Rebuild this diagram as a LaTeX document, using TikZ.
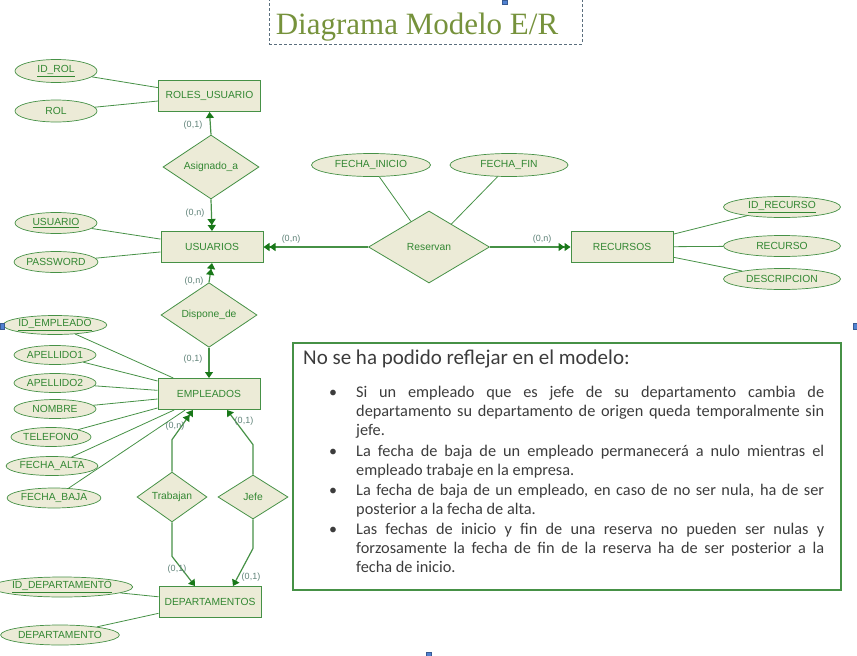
\documentclass[tikz,border=0pt]{standalone}
\usepackage{fontspec}
\setmainfont{Liberation Sans}
\newfontfamily\titlefont{Liberation Serif}
\newfontfamily\notefont{Carlito}
\usetikzlibrary{shapes.geometric,arrows.meta}
\definecolor{erline}{RGB}{70,145,70}
\definecolor{erarrow}{RGB}{25,120,25}
\definecolor{erfill}{RGB}{236,235,215}
\definecolor{ertext}{RGB}{50,135,50}
\definecolor{cardc}{RGB}{95,130,120}
\definecolor{titlegreen}{RGB}{118,146,60}
\definecolor{titlebord}{RGB}{90,110,125}
\definecolor{notegray}{RGB}{60,60,60}
\definecolor{handleblue}{RGB}{80,130,210}
\tikzset{
  erfont/.style={font=\fontsize{10.3}{12}\selectfont, text=ertext},
  entity/.style={draw=erline, fill=erfill, line width=1pt, minimum width=102pt, minimum height=31pt, inner sep=0pt, erfont},
  attr/.style={ellipse, draw=erline, fill=erfill, line width=0.7pt, minimum width=82pt, minimum height=21pt, inner sep=0pt, erfont},
  wideattr/.style={attr, minimum width=117pt},
  rel/.style={diamond, draw=erline, fill=erfill, line width=0.8pt, inner sep=0pt, erfont},
  attrline/.style={draw=erline, line width=0.8pt},
  relline/.style={draw=erline, line width=1.2pt},
  single/.style={relline, -{Triangle[length=6pt,width=8pt,fill=erarrow,color=erarrow]}},
  double/.style={relline, -{Triangle[length=6pt,width=8pt,fill=erarrow,color=erarrow]Triangle[length=6pt,width=8pt,fill=erarrow,color=erarrow]}},
  card/.style={font=\fontsize{9}{10}\selectfont, text=cardc, inner sep=0pt},
  itemtext/.style={anchor=base west, text width=468pt, align=justify, inner sep=0pt, font=\notefont\fontsize{16.3}{19}\selectfont, text=notegray},
  bul/.style={anchor=base, inner sep=0pt, font=\notefont\fontsize{16}{19}\selectfont, text=notegray},
  handle/.style={fill=handleblue, draw=handleblue!70!black, line width=0.3pt}
}
\begin{document}
\begin{tikzpicture}[x=1pt,y=-1pt]
\useasboundingbox (0,0) rectangle (857,656);
% title
\node[draw=titlebord, densely dashed, line width=0.9pt, minimum width=313pt, minimum height=50pt, inner sep=0pt] (titlebox) at (425.5,19) {};
\node[anchor=base, font=\titlefont\fontsize{31}{34}\selectfont, text=titlegreen, inner sep=0pt] (title) at (417,34) {Diagrama Modelo E/R};
% entities
\node[entity] (roles) at (209.5,96) {ROLES\_USUARIO};
\node[entity] (usu) at (212,247) {USUARIOS};
\node[entity] (emp) at (209,394) {EMPLEADOS};
\node[entity] (dep) at (210,602) {DEPARTAMENTOS};
\node[entity] (rec) at (622,247) {RECURSOS};
% relationships
\node[rel, minimum width=96pt, minimum height=42pt] (asig) at (211,167) {Asignado\_a};
\node[rel, minimum width=121pt, minimum height=72pt] (res) at (429,247) {Reservan};
\node[rel, minimum width=96pt, minimum height=42pt] (disp) at (209,315) {Dispone\_de};
\node[rel, minimum width=70pt, minimum height=44pt] (trab) at (172,497) {Trabajan};
\node[rel, minimum width=70pt, minimum height=44pt] (jefe) at (253,497) {Jefe};
% attributes
\node[attr, minimum height=23pt] (idrol) at (56,71) {\underline{ID\_ROL}};
\node[attr, minimum height=22pt] (rol) at (56,111) {ROL};
\node[attr] (usuario) at (56,223) {\underline{USUARIO}};
\node[attr] (pass) at (56,262) {PASSWORD};
\node[wideattr, minimum width=119pt, minimum height=23pt] (finicio) at (371,165) {FECHA\_INICIO};
\node[wideattr, minimum width=118pt, minimum height=23pt] (ffin) at (509,165) {FECHA\_FIN};
\node[wideattr] (idrec) at (782,207) {\underline{ID\_RECURSO}};
\node[wideattr] (recurso) at (782,246) {RECURSO};
\node[wideattr] (desc) at (782,279) {DESCRIPCION};
\node[attr, minimum height=19pt] (idemp) at (55,325) {\underline{ID\_EMPLEADO}};
\node[attr, minimum height=19pt] (ap1) at (55,355) {APELLIDO1};
\node[attr, minimum height=19pt] (ap2) at (55,383) {APELLIDO2};
\node[attr, minimum height=19pt] (nom) at (55,409) {NOMBRE};
\node[attr, minimum width=80pt, minimum height=19pt] (tel) at (51,437) {TELEFONO};
\node[attr, minimum width=84pt, minimum height=19pt] (falta) at (52,466) {FECHA\_ALTA};
\node[attr, minimum width=82pt, minimum height=20pt] (fbaja) at (54,498) {FECHA\_BAJA};
\node[wideattr, minimum width=118pt, minimum height=20pt] (iddep) at (62,587) {\underline{ID\_DEPARTAMENTO}};
\node[attr, minimum width=90pt, minimum height=20pt] (depn) at (60,635) {DEPARTAMENTO};
% attribute lines
\draw[attrline] (idrol) -- (roles);
\draw[attrline] (rol) -- (roles);
\draw[attrline] (usuario) -- (usu);
\draw[attrline] (pass) -- (usu);
\draw[attrline] (finicio) -- (res);
\draw[attrline] (ffin) -- (res);
\draw[attrline] (idrec) -- (rec);
\draw[attrline] (recurso) -- (rec);
\draw[attrline] (desc) -- (rec);
\draw[attrline] (idemp) -- (emp);
\draw[attrline] (ap1) -- (emp);
\draw[attrline] (ap2) -- (emp);
\draw[attrline] (nom) -- (emp);
\draw[attrline] (tel) -- (emp);
\draw[attrline] (falta) -- (emp);
\draw[attrline] (fbaja) -- (emp);
\draw[attrline] (iddep) -- (dep);
\draw[attrline] (depn) -- (dep);
% relationship lines
\draw[single] (asig.north) -- (roles.south);
\draw[double] (asig.south) -- (usu.north);
\draw[double] (disp.north) -- (usu.south);
\draw[single] (disp.south) -- (emp.north);
\draw[double] (res.west) -- (usu.east);
\draw[double] (res.east) -- (rec.west);
\draw[double] (trab.north) -- ++(0,-32) -- ([xshift=-16pt]emp.south);
\draw[single] (jefe.north) -- ++(0,-30) -- ([xshift=18pt]emp.south);
\draw[single] (trab.south) -- ++(0,34) -- ([xshift=-15pt]dep.north);
\draw[single] (jefe.south) -- ++(0,29) -- ([xshift=23pt]dep.north);
% cardinalities
\node[card] (c1) at (193,125) {(0,1)};
\node[card] (c2) at (195,213) {(0,n)};
\node[card] (c3) at (194,281) {(0,n)};
\node[card] (c4) at (193,359) {(0,1)};
\node[card] (c5) at (291,239) {(0,n)};
\node[card] (c6) at (542,239) {(0,n)};
\node[card] (c7) at (175,426) {(0,n)};
\node[card] (c8) at (244,421) {(0,1)};
\node[card] (c9) at (177,569) {(0,1)};
\node[card] (c10) at (251,577) {(0,1)};
% note box
\node[draw=erline, line width=1.1pt, minimum width=548pt, minimum height=247pt, inner sep=0pt] (note) at (567,466.5) {};
\node[anchor=base west, inner sep=0pt, font=\notefont\fontsize{21}{24}\selectfont, text=notegray] (head) at (303,364) {No se ha podido reflejar en el modelo:};
\node[bul] (b1) at (333,397) {\textbullet};
\node[itemtext] (t1) at (356,397) {Si un empleado que es jefe de su departamento cambia de\linebreak departamento su departamento de origen queda temporalmente sin\linebreak jefe.};
\node[bul] (b2) at (333,456) {\textbullet};
\node[itemtext] (t2) at (356,456) {La fecha de baja de un empleado permanecerá a nulo mientras el\linebreak empleado trabaje en la empresa.};
\node[bul] (b3) at (333,495) {\textbullet};
\node[itemtext] (t3) at (356,495) {La fecha de baja de un empleado, en caso de no ser nula, ha de ser\linebreak posterior a la fecha de alta.};
\node[bul] (b4) at (333,534) {\textbullet};
\node[itemtext] (t4) at (356,534) {Las fechas de inicio y fin de una reserva no pueden ser nulas y\linebreak forzosamente la fecha de fin de la reserva ha de ser posterior a la\linebreak fecha de inicio.};
% selection handles
\draw[handle] (502,0) rectangle (507,4);
\draw[handle] (0,323) rectangle (4,329);
\draw[handle] (853,323) rectangle (857,329);
\draw[handle] (426,652) rectangle (431,656);
\end{tikzpicture}
\end{document}
